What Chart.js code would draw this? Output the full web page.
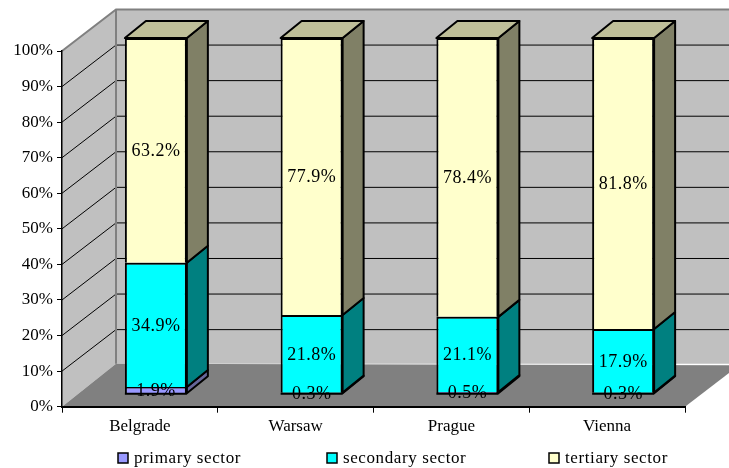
<!DOCTYPE html>
<html>
<head>
<meta charset="utf-8">
<style>
  html, body { margin: 0; padding: 0; background: #fff; }
  #wrap { width: 729px; height: 468px; position: relative; }
</style>
<script src="https://cdn.jsdelivr.net/npm/chart.js@4/dist/chart.umd.min.js"></script>
</head>
<body>
<div id="wrap"><canvas id="chart"></canvas></div>
<script>
const cities = ['Belgrade', 'Warsaw', 'Prague', 'Vienna'];
const primary = [1.9, 0.3, 0.5, 0.3];
const secondary = [34.9, 21.8, 21.1, 17.9];
const tertiary = [63.2, 77.9, 78.4, 81.8];

const FONT = '"Liberation Serif", "Times New Roman", serif';

// depth of the box, and where the bars sit inside it
const wallDx = 54, wallDy = -41.5, floorDy = -43;
const barShiftX = 16, barShiftY = -13;
const barDx = 21, barDy = -17;

function poly(ctx, pts, fill, stroke, width) {
    ctx.beginPath();
    pts.forEach((p, i) => i ? ctx.lineTo(p[0], p[1]) : ctx.moveTo(p[0], p[1]));
    ctx.closePath();
    if (fill) { ctx.fillStyle = fill; ctx.fill(); }
    if (stroke) { ctx.strokeStyle = stroke; ctx.lineWidth = width; ctx.lineJoin = 'round'; ctx.stroke(); }
}

const boxPlugin = {
    id: 'box',
    beforeDraw(chart) {
        const ctx = chart.ctx;
        const { left, right } = chart.chartArea;
        const y = chart.scales.y;
        const y0 = y.getPixelForValue(0), y100 = y.getPixelForValue(100);
        ctx.save();
        // back wall, left wall, floor
        poly(ctx, [[left + wallDx, y100 + wallDy], [right + wallDx, y100 + wallDy], [right + wallDx, y0 + floorDy], [left + wallDx, y0 + floorDy]], '#c0c0c0');
        poly(ctx, [[left, y0], [left + wallDx, y0 + floorDy], [left + wallDx, y100 + wallDy], [left, y100]], '#c0c0c0');
        // gridlines run along the left wall and across the back
        ctx.strokeStyle = '#000';
        ctx.lineWidth = 1;
        for (let v = 10; v <= 90; v += 10) {
            const py = y.getPixelForValue(v);
            ctx.beginPath();
            ctx.moveTo(left, py);
            ctx.lineTo(left + wallDx, py + wallDy);
            ctx.lineTo(right + wallDx, py + wallDy);
            ctx.stroke();
        }
        poly(ctx, [[left, y0], [right, y0], [right + wallDx, y0 + wallDy], [left + wallDx, y0 + floorDy]], '#808080');
        // grey wall edges
        ctx.strokeStyle = '#808080';
        ctx.lineWidth = 2;
        ctx.beginPath();
        ctx.moveTo(left, y100);
        ctx.lineTo(left + wallDx, y100 + wallDy);
        ctx.lineTo(right + wallDx, y100 + wallDy);
        ctx.moveTo(left + wallDx, y100 + wallDy);
        ctx.lineTo(left + wallDx, y0 + floorDy);
        ctx.stroke();
        ctx.restore();
    },
    beforeDatasetsDraw(chart) {
        const ctx = chart.ctx;
        ctx.save();
        ctx.translate(barShiftX, barShiftY);
        // side faces and the top cap, the library draws the front faces after this
        chart.data.datasets.forEach((ds, d) => {
            chart.getDatasetMeta(d).data.forEach(bar => {
                const r = bar.x + bar.width / 2;
                poly(ctx, [[r, bar.base], [r + barDx, bar.base + barDy], [r + barDx, bar.y + barDy], [r, bar.y]], ds.sideColor, '#000', 2);
                if (d === chart.data.datasets.length - 1) {
                    const l = bar.x - bar.width / 2;
                    poly(ctx, [[l, bar.y], [r, bar.y], [r + barDx, bar.y + barDy], [l + barDx, bar.y + barDy]], ds.topColor, '#000', 2);
                }
            });
        });
    },
    afterDatasetsDraw(chart) {
        const ctx = chart.ctx;
        // the lowest segments are too thin to show their own border
        ctx.strokeStyle = '#000';
        ctx.lineWidth = 2;
        chart.getDatasetMeta(0).data.forEach(bar => {
            ctx.beginPath();
            ctx.moveTo(bar.x - bar.width / 2, bar.base + 0.5);
            ctx.lineTo(bar.x + bar.width / 2, bar.base + 0.5);
            ctx.stroke();
        });
        // value labels, still inside the shifted context
        ctx.font = '18px ' + FONT;
        ctx.letterSpacing = '0.5px';
        ctx.fillStyle = '#000';
        ctx.textAlign = 'center';
        ctx.textBaseline = 'middle';
        chart.data.datasets.forEach((ds, d) => {
            chart.getDatasetMeta(d).data.forEach((bar, i) => {
                ctx.fillText(ds.data[i].toFixed(1) + '%', bar.x, (bar.y + bar.base) / 2 + 1);
            });
        });
        ctx.restore();
    },
    afterDraw(chart) {
        const ctx = chart.ctx;
        const legendX = [118, 327, 549];
        ctx.save();
        ctx.font = '17px ' + FONT;
        ctx.letterSpacing = '0.6px';
        ctx.textAlign = 'left';
        ctx.textBaseline = 'middle';
        chart.data.datasets.forEach((ds, d) => {
            ctx.fillStyle = ds.backgroundColor;
            ctx.fillRect(legendX[d], 453, 10, 10);
            ctx.strokeStyle = '#000';
            ctx.lineWidth = 1.5;
            ctx.strokeRect(legendX[d], 453, 10, 10);
            ctx.fillStyle = '#000';
            ctx.fillText(ds.label, legendX[d] + 16, 459);
        });
        ctx.restore();
    }
};

new Chart(document.getElementById('chart'), {
    type: 'bar',
    data: {
        labels: cities,
        datasets: [
            { label: 'primary sector', data: primary, backgroundColor: '#9999ff', sideColor: '#666699', borderWidth: { top: 1.5, left: 2, right: 2, bottom: 0 } },
            { label: 'secondary sector', data: secondary, backgroundColor: '#00ffff', sideColor: '#008080', borderWidth: { top: 2, left: 2, right: 2, bottom: 0 } },
            { label: 'tertiary sector', data: tertiary, backgroundColor: '#ffffcc', sideColor: '#808066', topColor: '#bfbf99', borderWidth: { top: 2, left: 2, right: 2, bottom: 0 } }
        ]
    },
    options: {
        responsive: true,
        maintainAspectRatio: false,
        animation: false,
        layout: { padding: { top: 51, right: 44, left: 0, bottom: 0 } },
        datasets: {
            bar: {
                categoryPercentage: 1,
                barPercentage: 0.398,
                borderColor: '#000',
                borderSkipped: false,
                clip: false
            }
        },
        plugins: {
            legend: { display: false },
            tooltip: { enabled: false }
        },
        scales: {
            x: {
                stacked: true,
                grid: { drawOnChartArea: false, tickLength: 6, tickColor: '#000', tickWidth: 1 },
                border: { color: '#000', width: 2 },
                ticks: { color: '#000', font: { family: FONT, size: 17 }, padding: 4, maxRotation: 0 },
                afterFit: scale => { scale.height = 61.3; }
            },
            y: {
                stacked: true,
                min: 0,
                max: 100,
                grid: { drawOnChartArea: false, tickLength: 5, tickColor: '#000', tickWidth: 1 },
                border: { color: '#000', width: 1.5 },
                ticks: { color: '#000', font: { family: FONT, size: 17 }, stepSize: 10, padding: 4, callback: v => v + '%' },
                afterFit: scale => { scale.width = 62; }
            }
        }
    },
    plugins: [boxPlugin]
});
</script>
</body>
</html>
